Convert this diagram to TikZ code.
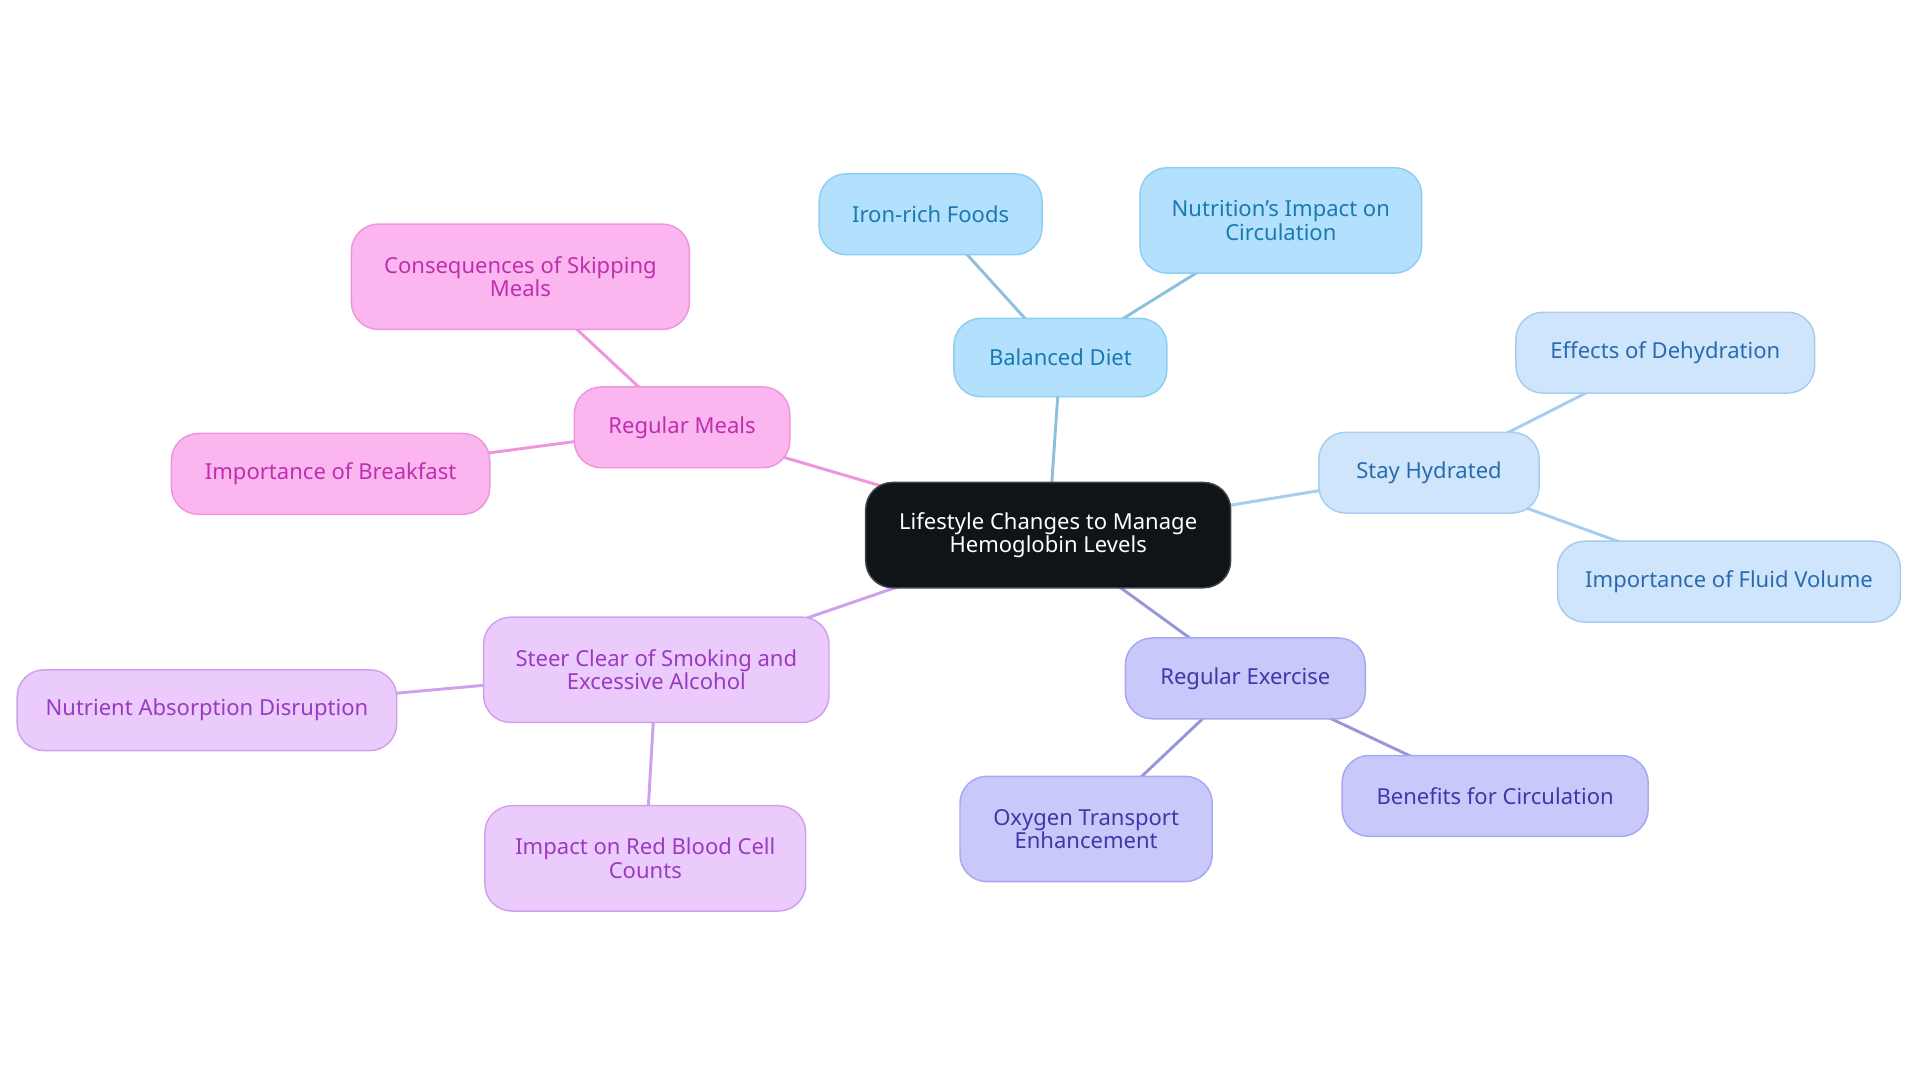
\documentclass[tikz,border=0pt]{standalone}
\usepackage{fontspec}
\setmainfont{Noto Sans}
\definecolor{rootfill}{HTML}{0F1419}
\definecolor{dietfill}{HTML}{B3E0FC}\definecolor{dietline}{HTML}{8FCDF2}\definecolor{diettext}{HTML}{1A7AB0}
\definecolor{hydfill}{HTML}{CFE5FB}\definecolor{hydline}{HTML}{A6CDF0}\definecolor{hydtext}{HTML}{2A6BB0}
\definecolor{exfill}{HTML}{C8C8FB}\definecolor{exline}{HTML}{A8A8F0}\definecolor{extext}{HTML}{3A3AA8}
\definecolor{smfill}{HTML}{EBCBFB}\definecolor{smline}{HTML}{D0A0EC}\definecolor{smtext}{HTML}{9A3AC0}
\definecolor{mealfill}{HTML}{FBB6F0}\definecolor{mealline}{HTML}{EE95DE}\definecolor{mealtext}{HTML}{C02EB0}
\tikzset{
  box/.style={rounded corners=11pt, line width=0.6pt, align=center, font=\fontsize{9}{9.6}\selectfont, inner sep=2pt},
  root/.style={box, fill=rootfill, draw=rootfill!80, text=white, minimum width=149pt, minimum height=43pt},
  diet/.style={box, fill=dietfill, draw=dietline, text=diettext},
  hyd/.style={box, fill=hydfill, draw=hydline, text=hydtext},
  ex/.style={box, fill=exfill, draw=exline, text=extext},
  sm/.style={box, fill=smfill, draw=smline, text=smtext},
  meal/.style={box, fill=mealfill, draw=mealline, text=mealtext},
  link/.style={line width=1.2pt}
}
\begin{document}
\begin{tikzpicture}[x=0.5pt,y=-0.5pt]
\useasboundingbox (0,0) rectangle (1568,884);
% edges first
\coordinate (p0) at (856,437);
\coordinate (p1) at (866,292);
\coordinate (p2) at (760,175);
\coordinate (p3) at (1046,180);
\coordinate (p4) at (1167,386);
\coordinate (p5) at (1360,288);
\coordinate (p6) at (1412,475);
\coordinate (p7) at (1017,554);
\coordinate (p8) at (887,677);
\coordinate (p9) at (1221,650);
\coordinate (p10) at (536,547);
\coordinate (p11) at (169,580);
\coordinate (p12) at (527,701);
\coordinate (p13) at (557,349);
\coordinate (p14) at (425,226);
\coordinate (p15) at (270,387);
\draw[link, dietline!90!black!90] (p0) -- (p1) (p1) -- (p2) (p1) -- (p3);
\draw[link, hydline] (p0) -- (p4) (p4) -- (p5) (p4) -- (p6);
\draw[link, exline!90!black] (p0) -- (p7) (p7) -- (p8) (p7) -- (p9);
\draw[link, smline] (p0) -- (p10) (p10) -- (p11) (p10) -- (p12);
\draw[link, mealline] (p0) -- (p13) (p13) -- (p14) (p13) -- (p15);
% nodes
\node[root] (main) at (p0) {Lifestyle Changes to Manage\\Hemoglobin Levels};
\node[diet, minimum width=87pt, minimum height=32pt] (diet) at (p1) {Balanced Diet};
\node[diet, minimum width=91pt, minimum height=33pt] (iron) at (p2) {Iron-rich Foods};
\node[diet, minimum width=115pt, minimum height=43pt] (nutr) at (p3) {Nutrition's Impact on\\Circulation};
\node[hyd, minimum width=90pt, minimum height=33pt] (hyd) at (p4) {Stay Hydrated};
\node[hyd, minimum width=122pt, minimum height=33pt] (dehyd) at (p5) {Effects of Dehydration};
\node[hyd, minimum width=140pt, minimum height=33pt] (fluid) at (p6) {Importance of Fluid Volume};
\node[ex, minimum width=98pt, minimum height=33pt] (ex) at (p7) {Regular Exercise};
\node[ex, minimum width=103pt, minimum height=43pt] (oxy) at (p8) {Oxygen Transport\\Enhancement};
\node[ex, minimum width=125pt, minimum height=33pt] (circ) at (p9) {Benefits for Circulation};
\node[sm, minimum width=141pt, minimum height=43pt] (smoke) at (p10) {Steer Clear of Smoking and\\Excessive Alcohol};
\node[sm, minimum width=155pt, minimum height=33pt] (absorb) at (p11) {Nutrient Absorption Disruption};
\node[sm, minimum width=131pt, minimum height=43pt] (rbc) at (p12) {Impact on Red Blood Cell\\Counts};
\node[meal, minimum width=88pt, minimum height=33pt] (meals) at (p13) {Regular Meals};
\node[meal, minimum width=138pt, minimum height=43pt] (skip) at (p14) {Consequences of Skipping\\Meals};
\node[meal, minimum width=130pt, minimum height=33pt] (bfast) at (p15) {Importance of Breakfast};
\end{tikzpicture}
\end{document}
